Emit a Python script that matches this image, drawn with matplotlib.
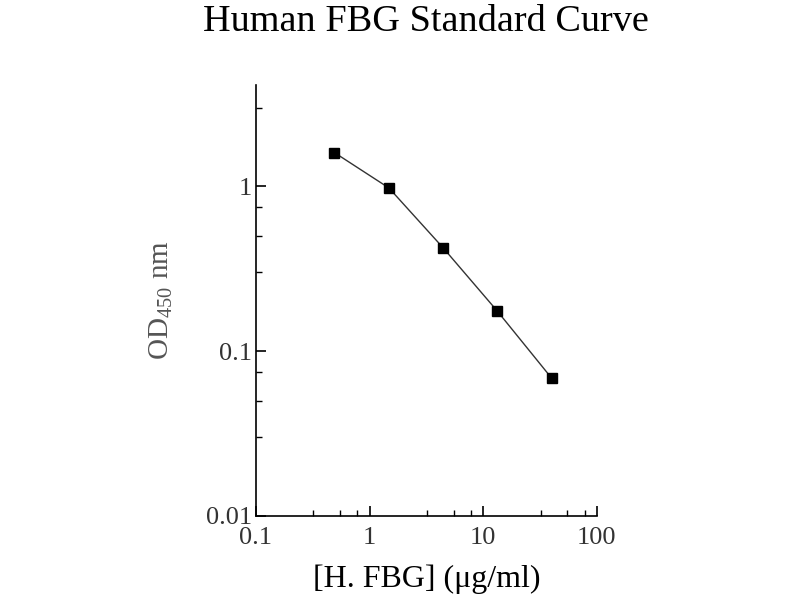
import matplotlib
matplotlib.use('Agg')
import matplotlib.pyplot as plt
from matplotlib.ticker import LogLocator, FixedLocator, NullFormatter

plt.rcParams['font.family'] = ['Liberation Serif', 'DejaVu Serif']
plt.rcParams['mathtext.fontset'] = 'custom'
plt.rcParams['mathtext.rm'] = 'Liberation Serif'

# Standard curve data (3-fold dilution series)
conc = [0.49, 1.48, 4.44, 13.3, 40.0]
od450 = [1.60, 0.976, 0.423, 0.175, 0.0686]

x_ticks = [0.1, 1, 10, 100]
x_tick_labels = ['0.1', '1', '10', '100']
y_ticks = [0.01, 0.1, 1]
y_tick_labels = ['0.01', '0.1', '1']

fig = plt.figure(figsize=(8, 6), dpi=100)
ax = fig.add_axes([0.32, 0.14, 0.426, 0.718])

ax.plot(conc, od450, color='#333333', linewidth=1.0, marker='s', markersize=6.5,
        markerfacecolor='black', markeredgecolor='black')

ax.set_xscale('log')
ax.set_yscale('log')
ax.set_xlim(0.1, 100)
ax.set_ylim(0.01, 4.1)

ax.xaxis.set_major_locator(FixedLocator(x_ticks))
ax.set_xticklabels(x_tick_labels)
ax.yaxis.set_major_locator(FixedLocator(y_ticks))
ax.set_yticklabels(y_tick_labels)
ax.xaxis.set_minor_locator(LogLocator(base=10, subs=(3.2, 5.5, 7.8)))
ax.yaxis.set_minor_locator(LogLocator(base=10, subs=(3.0, 5.0, 7.5)))
ax.xaxis.set_minor_formatter(NullFormatter())
ax.yaxis.set_minor_formatter(NullFormatter())

ax.spines['top'].set_visible(False)
ax.spines['right'].set_visible(False)
for s in ['left', 'bottom']:
    ax.spines[s].set_linewidth(1.2)

ax.tick_params(which='major', direction='in', length=7, width=1.2, labelsize=19)
ax.tick_params(which='minor', direction='in', length=4, width=1.0)
ax.tick_params(axis='x', which='major', pad=8)
ax.tick_params(axis='y', which='major', pad=3)
for lbl in ax.get_yticklabels() + ax.get_xticklabels():
    lbl.set_color('#333333')

ax.set_xlabel('[H. FBG] (\u03bcg/ml)', fontsize=23, labelpad=11)
ax.set_ylabel(r'OD$_{\mathrm{450}}$ nm', fontsize=21, color='#555555', labelpad=22)

fig.suptitle('Human FBG Standard Curve', fontsize=27.5, x=0.532, y=0.993)

fig.savefig('out.png', dpi=100)
